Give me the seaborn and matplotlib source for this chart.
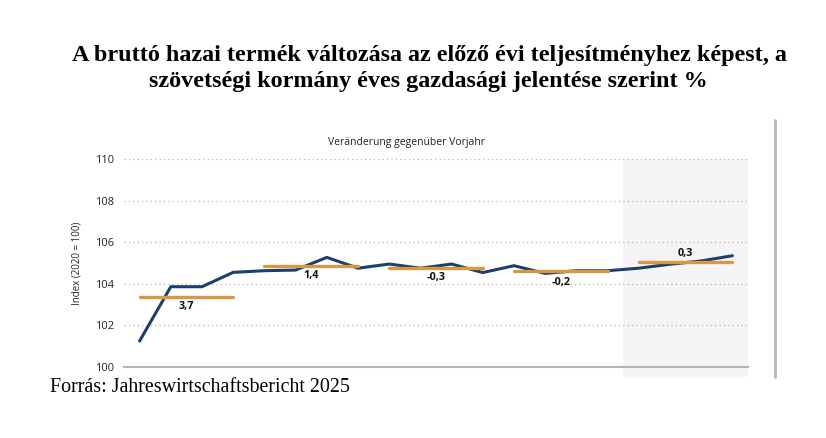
import matplotlib
matplotlib.use("Agg")
import matplotlib.pyplot as plt
import seaborn as sns
import pandas as pd
from matplotlib.lines import Line2D

# ---- data ----
quarters = [f"{y} Q{q}" for y in range(2021, 2026) for q in range(1, 5)]
gdp_index = [101.25, 103.86, 103.86, 104.55,
             104.63, 104.66, 105.27, 104.75,
             104.95, 104.75, 104.95, 104.54,
             104.87, 104.50, 104.63, 104.63,
             104.75, 104.94, 105.10, 105.35]
years = [2021, 2022, 2023, 2024, 2025]
annual_level = [103.35, 104.86, 104.75, 104.63, 105.03]
annual_change = ["3,7", "1,4", "-0,3", "-0,2", "0,3"]
label_offset = [-0.45, -0.45, -0.45, -0.55, 0.45]
forecast_year = 2025

title_line1 = "A bruttó hazai termék változása az előző évi teljesítményhez képest, a"
title_line2 = "szövetségi kormány éves gazdasági jelentése szerint %"
subtitle = "Veränderung gegenüber Vorjahr"
ylabel = "Index (2020 = 100)"
source = "Forrás: Jahreswirtschaftsbericht 2025"

BLUE = "#1d3f6b"
ORANGE = "#d8983f"

df = pd.DataFrame({"pos": range(len(quarters)), "quarter": quarters, "value": gdp_index})
rows = []
for i, (yr, lvl) in enumerate(zip(years, annual_level)):
    rows.append({"year": yr, "pos": i * 4, "level": lvl})
    rows.append({"year": yr, "pos": i * 4 + 3, "level": lvl})
avg_df = pd.DataFrame(rows)

sns.set_theme(style="white")
plt.rcParams["font.family"] = ["Open Sans", "DejaVu Sans"]

fig = plt.figure(figsize=(8.26, 4.38), dpi=100)
ax = fig.add_axes([124 / 826, 1 - 367 / 438, (748 - 124) / 826, (367 - 159) / 438])

# forecast shading
fi = years.index(forecast_year) * 4
ax.axvspan(fi - 0.5, fi + 3.5, ymin=-10 / 208, ymax=1, color="#f5f5f7", zorder=0, clip_on=False, lw=0)

# grid
for yv in [102, 104, 106, 108, 110]:
    ax.axhline(yv, color="#b5b5b5", lw=0.9, ls=(0, (1, 2.5)), zorder=1)

sns.lineplot(data=df, x="pos", y="value", color=BLUE, lw=2.2, ax=ax, zorder=3)
sns.lineplot(data=avg_df, x="pos", y="level", units="year", estimator=None,
             color=ORANGE, lw=2.4, ax=ax, zorder=4)

for i, (lvl, lab, off) in enumerate(zip(annual_level, annual_change, label_offset)):
    ax.text(i * 4 + 1.5, lvl + off, lab, ha="center", va="center",
            fontsize=7.8, fontweight="bold", color="#111111", zorder=5)

ax.set_xlim(-0.5, len(quarters) - 0.5)
ax.set_ylim(100, 110)
ax.set_xticks([i - 0.5 for i in range(len(quarters) + 1)])
ax.set_xticklabels([])
ax.set_yticks([100, 102, 104, 106, 108, 110])
ax.set_yticklabels(["100", "102", "104", "106", "108", "110"])
ax.tick_params(axis="x", direction="in", length=4, width=1, color="#b5b5b5", pad=0)
ax.tick_params(axis="y", length=0, labelsize=8, pad=7, labelcolor="#222222")
for s in ["top", "right", "left"]:
    ax.spines[s].set_visible(False)
ax.spines["bottom"].set_color("#b5b5b5")
ax.spines["bottom"].set_linewidth(1.5)
ax.set_xlabel("")
ax.set_ylabel(ylabel, fontsize=7, color="#222222", labelpad=9)
ax.patch.set_alpha(0)

# right border of the embedded chart image
fig.add_artist(Line2D([775 / 826, 775 / 826], [1 - 120 / 438, 1 - 377 / 438],
                      color="#b8b8b8", lw=2))

fig.text(407 / 826, 1 - 143 / 438, subtitle, ha="center", va="center",
         fontsize=7.5, color="#222222")
fig.text(429.5 / 826, 1 - 55 / 438, title_line1, ha="center", va="center",
         fontsize=17.4, fontweight="bold", color="black",
         family=["Liberation Serif", "DejaVu Serif"])
fig.text(428.5 / 826, 1 - 82 / 438, title_line2, ha="center", va="center",
         fontsize=17.4, fontweight="bold", color="black",
         family=["Liberation Serif", "DejaVu Serif"])
fig.text(50 / 826, 1 - 388 / 438, source, ha="left", va="center",
         fontsize=14.4, color="black", family=["Liberation Serif", "DejaVu Serif"])

fig.savefig("out.png", dpi=100)
